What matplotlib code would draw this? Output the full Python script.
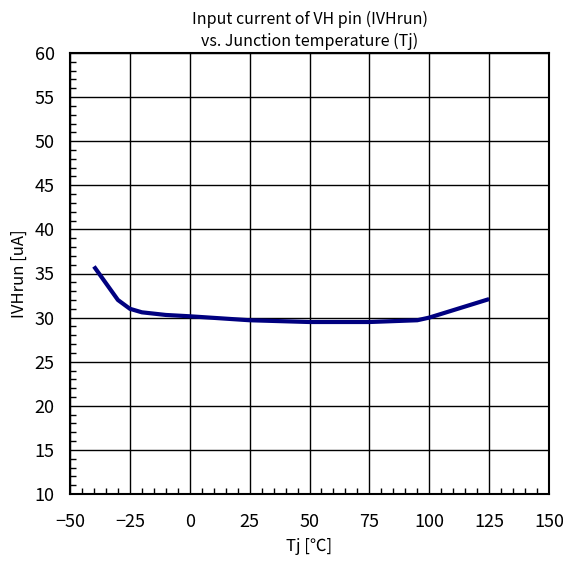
import numpy as np
import matplotlib
matplotlib.use("Agg")
import matplotlib.pyplot as plt
from matplotlib.ticker import MultipleLocator

plt.rcParams['font.family'] = ['Noto Sans CJK JP', 'DejaVu Sans']

# junction temperature [degC] and IVHrun [uA]
tj = [-40, -30, -25, -20, -10, 0, 25, 50, 75, 95, 100, 125]
ivhrun = [35.8, 32.0, 31.0, 30.6, 30.3, 30.15, 29.7, 29.5, 29.5, 29.7, 30.0, 32.1]

title = "Input current of VH pin (IVHrun)\nvs. Junction temperature (Tj)"

fig = plt.figure(figsize=(5.63, 5.63), dpi=100)
ax = fig.add_axes([70 / 563, 1 - 494 / 563, 479 / 563, 441 / 563])

ax.plot(tj, ivhrun, color='#000080', lw=3, solid_capstyle='butt', zorder=3)

ax.set_xlim(-50, 150)
ax.set_ylim(10, 60)
ax.xaxis.set_major_locator(MultipleLocator(25))
ax.xaxis.set_minor_locator(MultipleLocator(5))
ax.yaxis.set_major_locator(MultipleLocator(5))
ax.yaxis.set_minor_locator(MultipleLocator(1))
ax.grid(True, which='major', color='black', lw=1)

ax.tick_params(which='both', direction='in', top=False, right=False, labelsize=13)
ax.tick_params(axis='x', which='major', length=0, pad=14)
ax.tick_params(axis='y', which='major', length=0, pad=11)
ax.tick_params(which='minor', length=4, width=1)
for s in ax.spines.values():
    s.set_linewidth(1.5)
    s.set_color('black')

ax.set_title(title, fontsize=11.5, linespacing=1.4, pad=5)
ax.set_xlabel("Tj [℃]", fontsize=12, labelpad=5)
ax.set_ylabel("IVHrun [uA]", fontsize=12, labelpad=5)

fig.savefig("out.png", dpi=100)
